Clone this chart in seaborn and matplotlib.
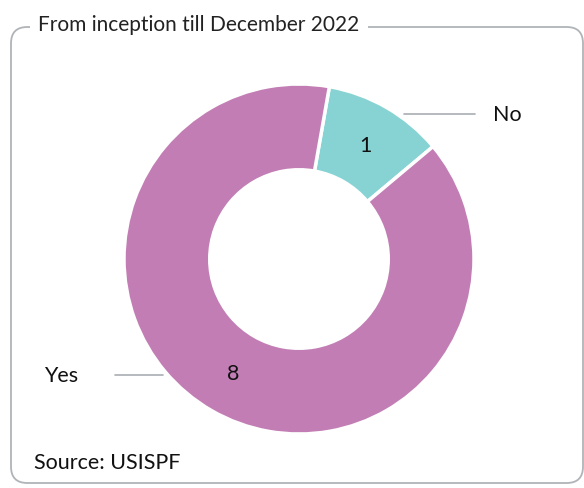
import matplotlib
matplotlib.use("Agg")
import matplotlib.pyplot as plt
from matplotlib.patches import FancyBboxPatch
import numpy as np
import seaborn as sns

# Survey answers and counts
categories = ["No", "Yes"]
counts = [1, 8]
colors = ["#87D3D4", "#C27EB4"]
title = "From inception till December 2022"
source = "Source: USISPF"

sns.set_theme(style="white")
plt.rcParams["font.family"] = ["Lato", "DejaVu Sans"]

W, H = 584, 489
fig = plt.figure(figsize=(W / 100, H / 100), dpi=100)
fig.patch.set_facecolor("white")

# Donut axes (pixel placement converted to figure fractions)
cx, cy, r = 299, 260, 175
ax = fig.add_axes([(cx - r) / W, (H - cy - r) / H, 2 * r / W, 2 * r / H])
wedges, _ = ax.pie(
    counts,
    colors=colors,
    startangle=80,
    counterclock=False,
    radius=1.0,
    wedgeprops=dict(width=0.49, edgecolor="white", linewidth=2.5),
)
ax.set_xlim(-1, 1)
ax.set_ylim(-1, 1)
ax.set_aspect("equal")
ax.axis("off")

# Values inside the ring and category labels with leader lines
text_kw = dict(fontsize=15.5, color="#111111")
label_pos = {"No": (1.19, 0.83), "Yes": (-1.36, -0.663)}
for w, cat, val in zip(wedges, categories, counts):
    mid = np.deg2rad((w.theta1 + w.theta2) / 2)
    rm = 0.755
    ax.text(rm * np.cos(mid), rm * np.sin(mid), str(val),
            ha="center", va="center", **text_kw)
    lx, ly = label_pos[cat]
    if lx > 0:
        ax.plot([0.6, 1.006], [ly, ly], color="#a9adb1", lw=1.2, clip_on=False)
    else:
        ax.plot([-1.051, -0.777], [ly, ly], color="#a9adb1", lw=1.2, clip_on=False)
    ax.text(lx, ly, cat, ha="center", va="center", clip_on=False, **text_kw)

# Rounded frame around the chart
x0, y0, x1, y1 = 11, 28, 583, 484
frame = FancyBboxPatch(
    (x0 / W, 1 - y1 / H), (x1 - x0) / W, (y1 - y0) / H,
    boxstyle="round,pad=0,rounding_size=0.028",
    transform=fig.transFigure, fill=False,
    edgecolor="#b0b4b8", linewidth=1.3, mutation_aspect=W / H,
)
fig.add_artist(frame)

fig.text(38 / W, 1 - 25 / H, title, ha="left", va="center", fontsize=15,
         color="#222222",
         bbox=dict(facecolor="white", edgecolor="none", pad=6))
fig.text(34 / W, 1 - 463 / H, source, ha="left", va="center", fontsize=15.5,
         color="#111111")

fig.savefig("out.png", dpi=100, facecolor="white")
